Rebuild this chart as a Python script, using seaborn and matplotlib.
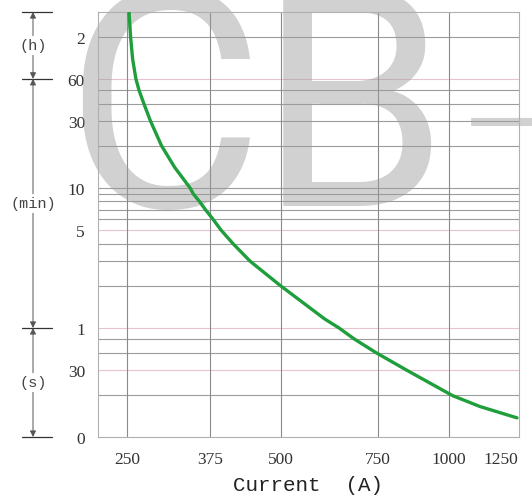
import numpy as np
import pandas as pd
import seaborn as sns
import matplotlib
matplotlib.use('Agg')
import matplotlib.pyplot as plt

# curva tiempo-corriente
corriente = [252.5, 254.4, 256.9, 261.1, 265.0, 271.4, 280.4, 295.9, 315.3, 340.1, 346.1,
             356.2, 366.6, 379.3, 392.1, 411.6, 441.0, 499.2, 599.7, 637.2, 679.5, 743.7,
             842.2, 1012.4, 1105.4, 1245.8]
segundos = [10800, 7200, 5012, 3600, 3000, 2400, 1800, 1200, 844, 600, 540,
            480, 420, 360, 300, 240, 180, 120, 69.7, 60, 50, 40,
            30, 19.7, 16.5, 13.7]

x_ticks = [250, 375, 500, 750, 1000, 1250]
x_labels = ['250', '375', '500', '750', '1000', '1250']
y_ticks = [10, 30, 60, 300, 600, 1800, 3600, 7200]
y_labels = ['0', '30', '1', '5', '10', '30', '60', '2']
y_grid = [20, 30, 40, 50, 60, 120, 180, 240, 300, 360, 420, 480, 540, 600,
          1200, 1800, 2400, 3000, 3600, 7200]
y_rosa = [30, 60, 300, 3600]
tramos = [(3600, 10800, '(h)'), (60, 3600, '(min)'), (10, 60, '(s)')]

df = pd.DataFrame({'corriente': corriente, 'segundos': segundos})

# escala x irregular del grafico original (posiciones de las marcas)
X_POS = np.array([127, 210, 281, 378, 449, 518], float)
LO = np.log10(x_ticks)
S0 = (X_POS[1] - X_POS[0]) / (LO[1] - LO[0])
S1 = (X_POS[-1] - X_POS[-2]) / (LO[-1] - LO[-2])


def fwd(x):
    lx = np.log10(np.maximum(np.asarray(x, float), 1e-6))
    out = np.interp(lx, LO, X_POS)
    out = np.where(lx < LO[0], X_POS[0] + (lx - LO[0]) * S0, out)
    out = np.where(lx > LO[-1], X_POS[-1] + (lx - LO[-1]) * S1, out)
    return out


def inv(p):
    p = np.asarray(p, float)
    out = np.interp(p, X_POS, LO)
    out = np.where(p < X_POS[0], LO[0] + (p - X_POS[0]) / S0, out)
    out = np.where(p > X_POS[-1], LO[-1] + (p - X_POS[-1]) / S1, out)
    return 10 ** out


sns.set_style('white')
fig = plt.figure(figsize=(5.32, 5.02), dpi=100)
ax = fig.add_axes([97.5 / 532, 1 - 438 / 502, (519 - 97.5) / 532, (438 - 13) / 502])

ax.set_xscale('function', functions=(fwd, inv))
ax.set_yscale('log')
ax.set_xlim(inv(97.5), inv(519))
ax.set_ylim(10, 10800)

for v in y_grid:
    c = '#e6c3d3' if v in y_rosa else '#9c9c9c'
    ax.axhline(v, color=c, lw=0.8, zorder=1)
for v in x_ticks[:-1]:
    ax.axvline(v, color='#8a8a8a', lw=0.8, zorder=1)

# marca de agua
for letra, xc, yb, peso in [('C', 164, 207, 'normal'), ('B', 353, 206, 'normal'),
                             ('-', 507, 222, 'light')]:
    ax.text(xc / 532, 1 - yb / 502, letra, transform=fig.transFigure, ha='center',
            va='baseline', fontsize=220, family='Roboto', weight=peso, color='#9a9a9a',
            alpha=0.45, zorder=2, clip_on=False)

sns.lineplot(data=df, x='corriente', y='segundos', color='#1f9e3c', lw=2.4, ax=ax, zorder=3)

ax.set_xticks(x_ticks)
ax.set_xticklabels(x_labels)
ax.set_yticks(y_ticks)
ax.set_yticklabels(y_labels)
ax.minorticks_off()
ax.tick_params(length=0, labelsize=12.5, colors='#333333')
ax.tick_params(axis='x', pad=10)
ax.tick_params(axis='y', pad=9)
for lab in ax.get_xticklabels() + ax.get_yticklabels():
    lab.set_family('Liberation Serif')
ax.get_xticklabels()[-1].set_horizontalalignment('right')
ax.set_xlabel('Current  (A)', fontsize=15, family='Liberation Mono', color='#222222', labelpad=6)
ax.set_ylabel('')
for s in ax.spines.values():
    s.set_color('#b0b0b0')
    s.set_linewidth(0.8)

# cotas de unidades a la izquierda
tr = ax.get_yaxis_transform()
xl = (33 - 97.5) / 421.5
for y in [10, 60, 3600, 10800]:
    ax.plot([(22 - 97.5) / 421.5, (52 - 97.5) / 421.5], [y, y], transform=tr,
            color='#333333', lw=0.9, clip_on=False)
for a, b, txt in tramos:
    ax.annotate('', xy=(xl, a), xytext=(xl, b), xycoords=tr, textcoords=tr,
                arrowprops=dict(arrowstyle='<|-|>', color='#555555', lw=0.7,
                                mutation_scale=9, shrinkA=0, shrinkB=0))
    ax.text(xl, np.sqrt(a * b), txt, transform=tr, ha='center', va='center',
            fontsize=11, family='Liberation Mono', color='#444444',
            bbox=dict(facecolor='white', edgecolor='none', pad=1.5), clip_on=False)

fig.savefig('out.png', dpi=100)
